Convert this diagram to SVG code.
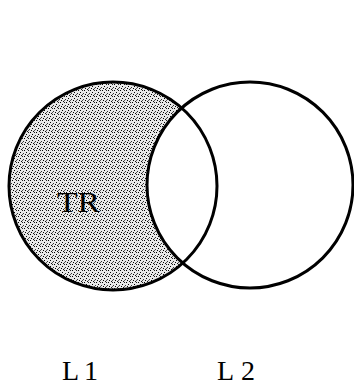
<svg xmlns="http://www.w3.org/2000/svg" width="354" height="387" viewBox="0 0 354 387">
  <style>
    .ring { fill: none; stroke: #000; stroke-width: 3; }
    .lbl { font-family: "Liberation Serif", "DejaVu Serif", serif; font-size: 30px; fill: #000; }
    .bot { font-size: 28px; }
  </style>
  <defs>
    <pattern id="dots" width="6" height="6" patternUnits="userSpaceOnUse">
      <rect width="6" height="6" fill="#e8e8e8"/>
      <rect x="0" y="0" width="1" height="1" fill="#000"/>
      <rect x="2" y="2" width="1" height="1" fill="#000"/>
      <rect x="4" y="0" width="1" height="1" fill="#222"/>
      <rect x="1" y="4" width="1" height="1" fill="#000"/>
      <rect x="5" y="3" width="1" height="1" fill="#333"/>
      <rect x="3" y="5" width="1" height="1" fill="#111"/>
      <rect x="4" y="4" width="1" height="1" fill="#555"/>
    </pattern>
  </defs>
  <rect width="354" height="387" fill="#fff"/>
  <g id="TR">
    <circle cx="113" cy="186" r="104" fill="url(#dots)"/>
    <circle cx="250" cy="185" r="103" fill="#fff"/>
    <text class="lbl" x="57" y="212" textLength="43" lengthAdjust="spacingAndGlyphs">TR</text>
  </g>
  <g id="L1">
    <circle class="ring" cx="113" cy="186" r="104"/>
    <text class="lbl bot" x="62" y="380" textLength="36" lengthAdjust="spacing">L 1</text>
  </g>
  <g id="L2">
    <circle class="ring" cx="250" cy="185" r="103"/>
    <text class="lbl bot" x="217" y="380" textLength="38" lengthAdjust="spacing">L 2</text>
  </g>
</svg>
